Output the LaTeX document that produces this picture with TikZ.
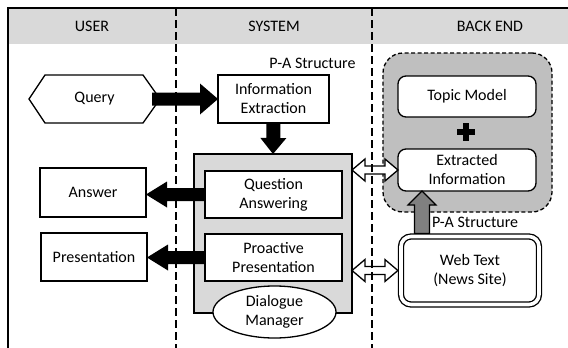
\documentclass[tikz,border=0pt]{standalone}
\usepackage{fontspec}
\setmainfont{Carlito}
\usetikzlibrary{calc,shapes.geometric}
\definecolor{hdrgray}{HTML}{D9D9D9}
\definecolor{sysgray}{HTML}{D9D9D9}
\definecolor{begray}{HTML}{BFBFBF}
\definecolor{arrgray}{HTML}{808080}
\tikzset{
  fatarrow/.style n args={3}{to path={
    ($(\tikztostart)!#1!90:(\tikztotarget)$)
    -- ($(\tikztotarget)!#3!(\tikztostart)!#1!90:(\tikztotarget)$)
    -- ($(\tikztotarget)!#3!(\tikztostart)!#2!90:(\tikztotarget)$)
    -- (\tikztotarget)
    -- ($(\tikztotarget)!#3!(\tikztostart)!#2!-90:(\tikztotarget)$)
    -- ($(\tikztotarget)!#3!(\tikztostart)!#1!-90:(\tikztotarget)$)
    -- ($(\tikztostart)!#1!-90:(\tikztotarget)$)
    -- cycle}},
  dblarrow/.style n args={3}{to path={
    (\tikztostart)
    -- ($(\tikztostart)!#3!(\tikztotarget)!#2!90:(\tikztotarget)$)
    -- ($(\tikztostart)!#3!(\tikztotarget)!#1!90:(\tikztotarget)$)
    -- ($(\tikztotarget)!#3!(\tikztostart)!#1!90:(\tikztotarget)$)
    -- ($(\tikztotarget)!#3!(\tikztostart)!#2!90:(\tikztotarget)$)
    -- (\tikztotarget)
    -- ($(\tikztotarget)!#3!(\tikztostart)!#2!-90:(\tikztotarget)$)
    -- ($(\tikztotarget)!#3!(\tikztostart)!#1!-90:(\tikztotarget)$)
    -- ($(\tikztostart)!#3!(\tikztotarget)!#1!-90:(\tikztotarget)$)
    -- ($(\tikztostart)!#3!(\tikztotarget)!#2!-90:(\tikztotarget)$)
    -- cycle}},
  blackarrow/.style={fill=black, draw=none},
  hollowarrow/.style={fill=white, draw=black, line width=1.3pt, line join=miter},
  grayarrow/.style={fill=arrgray, draw=black, line width=1.1pt, line join=miter},
  frameline/.style={line width=2pt},
  sepline/.style={line width=1.2pt, dash pattern=on 8pt off 4pt},
  box/.style={draw, fill=white, line width=1.3pt, inner sep=0pt, outer sep=0pt, align=center},
  rbox/.style={box, rounded corners=8pt},
  sysbox/.style={draw, fill=sysgray, line width=1.3pt, inner sep=0pt, outer sep=0pt},
  bebox/.style={draw, fill=begray, line width=1.3pt, dashed, dash pattern=on 4pt off 2.5pt, rounded corners=20pt, inner sep=0pt, outer sep=0pt},
  lbl/.style={inner sep=0pt, outer sep=0pt}
}
\begin{document}
\begin{tikzpicture}[x=1pt, y=-1pt, font=\fontsize{16}{19}\selectfont]
\useasboundingbox (0,0) rectangle (568,348);
% header and frame
\fill[hdrgray] (8,8) rectangle (568,44);
\draw[frameline] (8,348) -- (8,8) -- (568,8);
\node[lbl] (huser) at (92,26.5) {USER};
\node[lbl] (hsys) at (274,26.5) {SYSTEM};
\node[lbl] (hbe) at (490,26.5) {BACK END};

% back end
\node[bebox, minimum width=169pt, minimum height=159pt] (be) at (467.5,132.5) {};
\node[rbox, minimum width=138pt, minimum height=41pt] (tm) at (467,96.5) {Topic Model};
\node[rbox, minimum width=138pt, minimum height=42pt] (ei) at (467,170) {Extracted\\Information};
\node[inner sep=0pt, minimum size=18pt] (plus) at (466,131.5) {};
\fill (plus.center) ++(-9,-3) rectangle ++(18,6);
\fill (plus.center) ++(-3,-9) rectangle ++(6,18);
\node[box, rounded corners=10pt, double, double distance=3.6pt, line width=1.3pt, outer sep=3.1pt,
      minimum width=138pt, minimum height=68pt] (web) at (470,270.5) {Web Text\\(News Site)};
\coordinate (gax) at (422,0);
\draw[grayarrow] (web.north -| gax) to[fatarrow={7.5pt}{14pt}{14pt}] (ei.south -| gax);
\node[lbl, anchor=west] (pa2) at (432,222) {P-A Structure};

% system
\node[sysbox, minimum width=158pt, minimum height=159pt] (sys) at (273,233.5) {};
\node[box, minimum width=137pt, minimum height=47pt] (qa) at (273.5,194.5) {Question\\Answering};
\node[box, minimum width=137pt, minimum height=47pt] (pp) at (273.5,257.5) {Proactive\\Presentation};
\node[box, ellipse, minimum width=123pt, minimum height=52pt] (dm) at (274.5,312) {Dialogue\\Manager};
\node[box, minimum width=111pt, minimum height=48pt] (ie) at (273.5,99) {Information\\Extraction};
\node[lbl] (pa1) at (312.5,63) {P-A Structure};

% user
\node[lbl, minimum width=131pt, minimum height=48pt] (query) at (94.5,99) {Query};
\draw[line width=1.3pt, line join=miter, fill=white] (query.west) -- ($(query.north west)+(16,0)$)
  -- ($(query.north east)+(-17,0)$) -- (query.east) -- ($(query.south east)+(-17,0)$)
  -- ($(query.south west)+(16,0)$) -- cycle;
\node[lbl] at (query.center) {Query};
\node[box, minimum width=106pt, minimum height=49pt] (answer) at (93,192.5) {Answer};
\node[box, minimum width=106pt, minimum height=48pt] (pres) at (94,257) {Presentation};

% hollow double arrows
\draw[hollowarrow] (sys.east |- ei.west) to[dblarrow={4pt}{11pt}{13pt}] (ei.west);
\draw[hollowarrow] (sys.east |- web.west) to[dblarrow={4pt}{11pt}{13pt}] (web.west);

% separators
\draw[sepline] (176,8) -- (176,348);
\draw[sepline] (372,8) -- (372,348);

% black arrows
\fill[blackarrow] ($(query.east)+(-8,0)$) to[fatarrow={6.5pt}{15.5pt}{18pt}] (ie.west);
\fill[blackarrow] (ie.south) to[fatarrow={7pt}{13pt}{16pt}] (sys.north);
\fill[blackarrow] (qa.west) to[fatarrow={6.5pt}{13pt}{21pt}] (answer.east |- qa.west);
\fill[blackarrow] (pp.west) to[fatarrow={6.5pt}{13pt}{21pt}] (pres.east |- pp.west);
\end{tikzpicture}
\end{document}
